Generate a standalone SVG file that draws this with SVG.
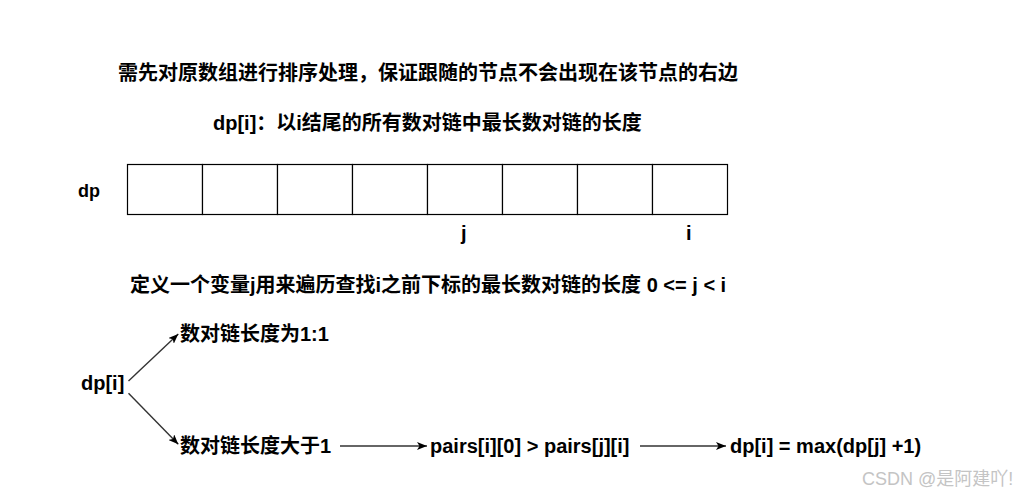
<svg xmlns="http://www.w3.org/2000/svg" width="1021" height="499" viewBox="0 0 1021 499">
  <style>
    .t { font-family: "Liberation Sans", "Noto Sans CJK SC", sans-serif; font-weight: bold; font-size: 20px; fill: #000; }
    .cell { fill: #fff; stroke: #000; stroke-width: 1.2; }
    .edge { fill: none; stroke: #333; stroke-width: 1.4; }
    .wm { font-family: "Liberation Sans", "Noto Sans CJK SC", sans-serif; font-size: 18px; fill: #c4c4c4; }
  </style>
  <defs>
    <marker id="arrow" viewBox="0 0 10 8" refX="10" refY="4" markerWidth="10" markerHeight="8" markerUnits="userSpaceOnUse" orient="auto">
      <path d="M0,0 L10,4 L0,8 L2.5,4 z" fill="#000"/>
    </marker>
  </defs>
  <rect width="1021" height="499" fill="#fff"/>

  <g id="title-sort"><text class="t" x="118" y="79.5">需先对原数组进行排序处理，保证跟随的节点不会出现在该节点的右边</text></g>
  <g id="title-def"><text class="t" x="213" y="129.5">dp[i]：以i结尾的所有数对链中最长数对链的长度</text></g>

  <g id="dp-label"><text class="t" x="78" y="197" style="font-size:18px">dp</text></g>
  <g id="dp-array">
    <rect class="cell" x="127.5" y="164.5" width="75" height="50"/>
    <rect class="cell" x="202.5" y="164.5" width="75" height="50"/>
    <rect class="cell" x="277.5" y="164.5" width="75" height="50"/>
    <rect class="cell" x="352.5" y="164.5" width="75" height="50"/>
    <rect class="cell" x="427.5" y="164.5" width="75" height="50"/>
    <rect class="cell" x="502.5" y="164.5" width="75" height="50"/>
    <rect class="cell" x="577.5" y="164.5" width="75" height="50"/>
    <rect class="cell" x="652.5" y="164.5" width="75" height="50"/>
  </g>
  <g id="index-j"><text class="t" x="461" y="240">j</text></g>
  <g id="index-i"><text class="t" x="686" y="240">i</text></g>

  <g id="title-loop"><text class="t" x="130" y="291.5">定义一个变量j用来遍历查找i之前下标的最长数对链的长度 0 &lt;= j &lt; i</text></g>

  <g id="node-dpi"><text class="t" x="81" y="390">dp[i]</text></g>
  <g id="node-len1"><text class="t" x="180" y="340.5">数对链长度为1:1</text></g>
  <g id="node-lenmore"><text class="t" x="180" y="452.5">数对链长度大于1</text></g>
  <g id="node-cond"><text class="t" x="430" y="453">pairs[i][0] &gt; pairs[j][i]</text></g>
  <g id="node-result"><text class="t" x="730" y="453">dp[i] = max(dp[j] +1)</text></g>

  <g id="connectors">
    <line class="edge" x1="128.5" y1="381" x2="178.3" y2="334" marker-end="url(#arrow)"/>
    <line class="edge" x1="128.5" y1="393.3" x2="178.3" y2="444.3" marker-end="url(#arrow)"/>
    <line class="edge" x1="340" y1="446" x2="427" y2="446" marker-end="url(#arrow)"/>
    <line class="edge" x1="640" y1="446" x2="726" y2="446" marker-end="url(#arrow)"/>
  </g>

  <g id="watermark"><text class="wm" x="862" y="485">CSDN @是阿建吖!</text></g>
</svg>
